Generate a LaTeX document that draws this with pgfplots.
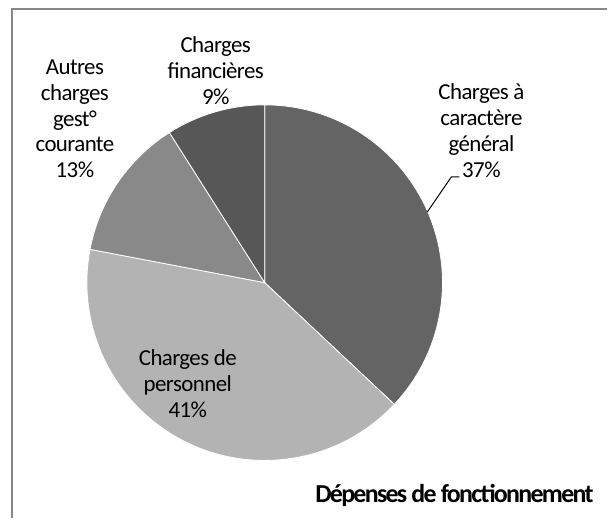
\documentclass[border=0pt]{standalone}
\usepackage{pgfplots}
\pgfplotsset{compat=1.18}
\usepackage{fontspec}
\setmainfont{Carlito}
\newfontfamily\labfont[LetterSpace=-2.5]{Carlito}
\newfontfamily\titfont[LetterSpace=-6.5]{Carlito}
\definecolor{cgen}{HTML}{646464}
\definecolor{cpers}{HTML}{B3B3B3}
\definecolor{caut}{HTML}{898989}
\definecolor{cfin}{HTML}{575757}
\definecolor{cframe}{HTML}{888888}
\newcommand\lab{\labfont\fontsize{23}{26}\selectfont}
\begin{document}
\begin{tikzpicture}
% data (percent)
\def\vgen{37}\def\vpers{41}\def\vaut{13}\def\vfin{9}
\pgfmathsetmacro\aA{90}
\pgfmathsetmacro\aB{\aA-3.6*\vgen}
\pgfmathsetmacro\aC{\aB-3.6*\vpers}
\pgfmathsetmacro\aD{\aC-3.6*\vaut}
\pgfmathsetmacro\aE{\aD-3.6*\vfin}
\def\R{178bp}
\begin{axis}[x=1bp, y=1bp, xmin=0, xmax=608, ymin=0, ymax=519, y dir=reverse,
  hide axis, clip=false]
\path (axis cs:0,0) rectangle (axis cs:608,519);
\draw[cframe, line width=1.5bp] (axis cs:12,519) -- (axis cs:12,9) -- (axis cs:608,9);
\fill[cgen, draw=white, line width=0.8bp] (axis cs:265,283) -- ([shift={(\aA:\R)}]axis cs:265,283) arc[start angle=\aA, end angle=\aB, radius=\R] -- cycle;
\fill[cpers, draw=white, line width=0.8bp] (axis cs:265,283) -- ([shift={(\aB:\R)}]axis cs:265,283) arc[start angle=\aB, end angle=\aC, radius=\R] -- cycle;
\fill[caut, draw=white, line width=0.8bp] (axis cs:265,283) -- ([shift={(\aC:\R)}]axis cs:265,283) arc[start angle=\aC, end angle=\aD, radius=\R] -- cycle;
\fill[cfin, draw=white, line width=0.8bp] (axis cs:265,283) -- ([shift={(\aD:\R)}]axis cs:265,283) arc[start angle=\aD, end angle=\aE, radius=\R] -- cycle;
\draw[black, line width=1bp] (axis cs:428,212) -- (axis cs:452,177) -- (axis cs:460,177);
\node[align=center, font=\lab, inner sep=0pt] at (axis cs:482,131) {Charges à\\caractère\\général\\37\%};
\node[align=center, font=\lab, inner sep=0pt] at (axis cs:216,71) {Charges\\financières\\9\%};
\node[align=center, font=\lab, inner sep=0pt] at (axis cs:75,119) {Autres\\charges\\gest°\\courante\\13\%};
\node[align=center, font=\lab, inner sep=0pt] at (axis cs:188,384) {Charges de\\personnel\\41\%};
\node[font=\titfont\bfseries\fontsize{26}{28}\selectfont, inner sep=0pt] at (axis cs:455,496) {Dépenses de fonctionnement};
\end{axis}
\end{tikzpicture}
\end{document}
